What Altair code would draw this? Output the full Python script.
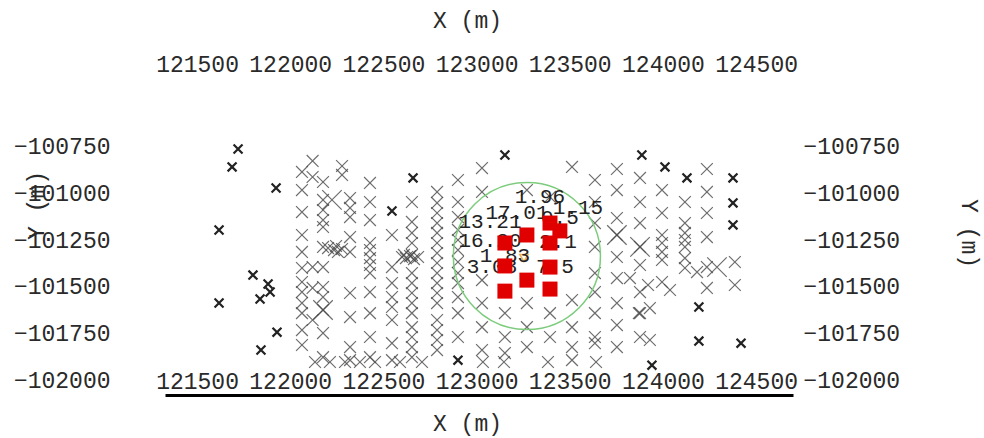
import altair as alt
import pandas as pd

X_TICKS = [121500, 122000, 122500, 123000, 123500, 124000, 124500]
Y_TICKS = [-100750, -101000, -101250, -101500, -101750, -102000]
X_DOMAIN = [121328, 124698]
Y_DOMAIN = [-102080, -100659]

# survey lines: x of each line and the y of the stations on it
LINE_X = [122063, 122120, 122176, 122278, 122321, 122428, 122546, 122653, 122788, 122900,
          123029, 123152, 123270, 123394, 123512, 123635, 123753, 123877, 123995, 124118,
          124236, 124386]
LINE_Y = [
    [-100884, -100981, -101099, -101222, -101313, -101399, -101474, -101528, -101587, -101641, -101732, -101812],
    [-100825, -100911, -101394, -101506, -101678],
    [-100938, -101034, -101088, -101142, -101179, -101286, -101394, -101501, -101555, -101624, -101748, -101877],
    [-100852, -100900],
    [-101024, -101077, -101126, -101233, -101313, -101533, -101662, -101823, -101893],
    [-100943, -101045, -101142, -101265, -101303, -101346, -101383, -101426, -101528, -101641, -101769, -101877],
    [-101222, -101394, -101480, -101555, -101608, -101678, -101802, -101893],
    [-101045, -101152, -101211, -101265, -101329, -101426, -101480, -101533, -101587, -101641, -101716, -101769, -101823, -101877],
    [-100991, -101050, -101104, -101158, -101211, -101265, -101319, -101372, -101426, -101480, -101533, -101587, -101678, -101732, -101785, -101839],
    [-100927, -101045, -101126, -101195, -101249, -101303, -101367, -101426, -101480, -101555, -101641, -101769],
    [-100863, -100991, -101464, -101587, -101716, -101839],
    [-101641, -101769, -101855],
    [-100981, -101587, -101716, -101823],
    [-101018, -101641, -101769],
    [-100857, -101571, -101716, -101823, -101893],
    [-100927, -101045, -101158, -101286, -101426, -101528, -101641, -101769, -101802],
    [-100868, -100981, -101131, -101222, -101340, -101453, -101587, -101705, -101823],
    [-100916, -101045, -101158, -101286, -101383, -101528, -101641, -101769],
    [-100981, -101104, -101222, -101265, -101313, -101356, -101474],
    [-101045, -101158, -101211, -101249, -101286, -101346, -101399],
    [-100868, -100991, -101104, -101233, -101394, -101506],
    [-101367, -101490],
]

EXTRA_X = [123920, 124038, 123823, 123930, 123871, 123930, 124183,
           122133, 122213, 122294, 122374, 122455, 122589, 122707, 123034, 123147, 123383, 123641,
           122203, 122235, 122256, 122278, 122246,
           122600, 122621, 122643, 122664, 122610, 122686]
EXTRA_Y = [-101490, -101517, -101453, -101614, -101641, -101785, -101421,
           -101903, -101903, -101903, -101903, -101903, -101903, -101903, -101903, -101903, -101903, -101903,
           -101292, -101303, -101313, -101297, -101281,
           -101340, -101346, -101335, -101351, -101329, -101340]

BIG_X = [122224, 124290, 123877, 123753, 122176]
BIG_Y = [-101034, -101394, -101286, -101222, -101624]

DARK_X = [121720, 121688, 121924, 121618, 121800, 121881, 121892, 121838, 121618, 121929, 121843,
          122546, 122659, 123152, 122900, 123887, 124011, 124129, 124376, 124376, 124376,
          124193, 124193, 124419, 123941]
DARK_Y = [-100761, -100857, -100970, -101195, -101437, -101485, -101528, -101565, -101587, -101743, -101839,
          -101093, -100916, -100793, -101893, -100793, -100857, -100916, -100916, -101050, -101168,
          -101608, -101791, -101802, -101920]

SQ_X = [123152, 123270, 123394, 123447, 123394, 123152, 123270, 123394, 123152, 123394]
SQ_Y = [-101265, -101222, -101158, -101200, -101265, -101388, -101464, -101394, -101523, -101512]

LBL_TEXT = ["1.96", "17.01", "1.15", "0.5", "13.21", "16.20", "2.1", "1.83", "3.08", "7.5"]
LBL_X = [123340, 123217, 123544, 123447, 123072, 123072, 123437, 123152, 123083, 123421]
LBL_Y = [-101018, -101104, -101077, -101131, -101152, -101254, -101260, -101335, -101394, -101394]

CENTER_X = [123254]
CENTER_Y = [-101346]
RING_X = [123270]
RING_Y = [-101335]

gx, gy = [], []
for lx, ys in zip(LINE_X, LINE_Y):
    for v in ys:
        gx.append(lx)
        gy.append(v)
gx += EXTRA_X
gy += EXTRA_Y
gray = pd.DataFrame({"x": gx, "y": gy})
big = pd.DataFrame({"x": BIG_X, "y": BIG_Y})
dark = pd.DataFrame({"x": DARK_X, "y": DARK_Y})
sq = pd.DataFrame({"x": SQ_X, "y": SQ_Y})
lbl = pd.DataFrame({"x": LBL_X, "y": LBL_Y, "t": LBL_TEXT})
ctr = pd.DataFrame({"x": CENTER_X, "y": CENTER_Y})
ring = pd.DataFrame({"x": RING_X, "y": RING_Y})

FONT = "Liberation Mono"
CROSS = "M-1,-1L1,1M-1,1L1,-1"
xs = alt.Scale(domain=X_DOMAIN, nice=False, zero=False)
ys = alt.Scale(domain=Y_DOMAIN, nice=False, zero=False)

common_axis = dict(format="d", grid=False, ticks=False, tickSize=0,
                   labelFont=FONT, labelFontSize=23, labelColor="#2a2a2a", labelOverlap=False,
                   labelFlush=False, titleFont=FONT, titleFontSize=23, titleFontWeight="normal",
                   titleColor="#2a2a2a")


def xaxis(orient):
    d = dict(common_axis)
    d["values"] = X_TICKS
    if orient == "bottom":
        return alt.Axis(orient="bottom", title="X (m)", domain=True, domainColor="#000", domainWidth=3,
                        labelBaseline="bottom", labelPadding=-2, titleX=302, titleY=35,
                        titleBaseline="alphabetic", titleAlign="center", **d)
    return alt.Axis(orient="top", title="X (m)", domain=False, labelBaseline="bottom", labelPadding=54,
                    titleX=302, titleY=-103, titleBaseline="alphabetic", titleAlign="center", **d)


def yaxis(orient):
    d = dict(common_axis)
    d["values"] = Y_TICKS
    if orient == "left":
        return alt.Axis(orient="left", title="Y (m)", domain=False, labelPadding=55,
                        titleX=-129, titleY=75, titleAngle=270, titleBaseline="middle",
                        titleAlign="center", **d)
    return alt.Axis(orient="right", title="Y (m)", domain=False, labelPadding=10,
                    titleX=175, titleY=103, titleAngle=90, titleBaseline="middle",
                    titleAlign="center", **d)


gray_layer = alt.Chart(gray).mark_point(shape=CROSS, filled=False, strokeWidth=1.2, color="#4a4a4a",
                                         opacity=0.8, size=140).encode(
    x=alt.X("x:Q", scale=xs, axis=xaxis("bottom")),
    y=alt.Y("y:Q", scale=ys, axis=yaxis("left")))

big_layer = alt.Chart(big).mark_point(shape=CROSS, filled=False, strokeWidth=1.2, color="#4a4a4a",
                                       opacity=0.8, size=380).encode(
    x=alt.X("x:Q", scale=xs, axis=xaxis("top")),
    y=alt.Y("y:Q", scale=ys, axis=yaxis("right")))

dark_layer = alt.Chart(dark).mark_point(shape=CROSS, filled=False, strokeWidth=2.2, color="#222",
                                         opacity=1, size=80).encode(
    x=alt.X("x:Q", scale=xs, axis=None), y=alt.Y("y:Q", scale=ys, axis=None))

ring_layer = alt.Chart(ring).mark_point(shape="circle", filled=False, strokeWidth=1.5, color="#7ccc7c",
                                         opacity=1, size=21642).encode(
    x=alt.X("x:Q", scale=xs, axis=None), y=alt.Y("y:Q", scale=ys, axis=None))

ctr_layer = alt.Chart(ctr).mark_point(shape="triangle-down", filled=False, strokeWidth=1.5,
                                       color="#f0b050", opacity=1, size=70).encode(
    x=alt.X("x:Q", scale=xs, axis=None), y=alt.Y("y:Q", scale=ys, axis=None))

txt_layer = alt.Chart(lbl).mark_text(font=FONT, fontSize=21, color="#222", align="center",
                                      baseline="middle").encode(
    x=alt.X("x:Q", scale=xs, axis=None), y=alt.Y("y:Q", scale=ys, axis=None), text="t:N")

sq_layer = alt.Chart(sq).mark_square(size=225, color="#e00000", opacity=1).encode(
    x=alt.X("x:Q", scale=xs, axis=None), y=alt.Y("y:Q", scale=ys, axis=None))

chart = alt.layer(gray_layer, big_layer, dark_layer, ring_layer, ctr_layer, txt_layer, sq_layer).resolve_axis(
    x="independent", y="independent"
).properties(
    width=628, height=265,
    autosize=alt.AutoSizeParams(type="none"),
    padding={"left": 165, "top": 130, "right": 191, "bottom": 43},
    background="white",
).configure_view(stroke=None)

chart.save("out.html", embed_options={"renderer": "svg", "actions": False})
